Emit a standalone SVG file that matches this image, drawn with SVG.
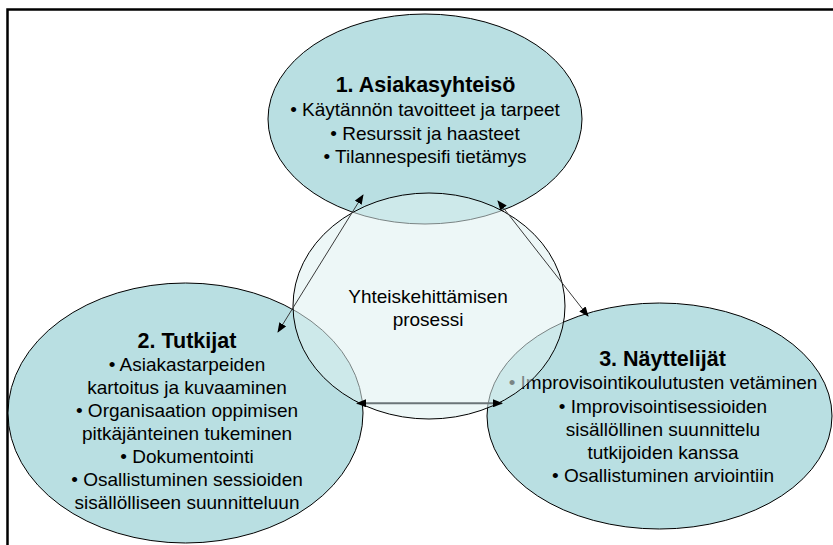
<svg xmlns="http://www.w3.org/2000/svg" width="833" height="545" viewBox="0 0 833 545">
<style>
.bub{fill:#b9dfe2;stroke:#000;stroke-width:1}
.t{font-family:"Liberation Sans",Arial,sans-serif;font-size:19px;fill:#000;text-anchor:middle}
.h{font-size:21.5px;font-weight:bold}
.c1{fill:none;stroke:#3a3a3a;stroke-width:1}
.c2{fill:none;stroke:#6b7578;stroke-width:2}
</style>
<defs>
<marker id="ah" markerWidth="10" markerHeight="8" refX="9" refY="4" orient="auto-start-reverse" markerUnits="userSpaceOnUse">
<path d="M0,0 L10,4 L0,8 Z" fill="#000"/>
</marker>
</defs>
<rect width="833" height="545" fill="#fff"/>
<path d="M7.5,545 V9.5 H833" fill="none" stroke="#000" stroke-width="2.5"/>
<g id="asiakasyhteiso">
<ellipse class="bub" cx="425" cy="119" rx="157" ry="105"/>
<text class="t h" x="425.5" y="92">1. Asiakasyhteisö</text>
<text class="t" x="425" y="116">• Käytännön tavoitteet ja tarpeet</text>
<text class="t" x="425" y="140">• Resurssit ja haasteet</text>
<text class="t" x="425" y="163">• Tilannespesifi tietämys</text>
</g>
<g id="tutkijat">
<ellipse class="bub" cx="185.5" cy="413" rx="177.5" ry="130"/>
<text class="t h" x="187" y="348">2. Tutkijat</text>
<text class="t" x="187" y="371">• Asiakastarpeiden</text>
<text class="t" x="187" y="394">kartoitus ja kuvaaminen</text>
<text class="t" x="187" y="417">• Organisaation oppimisen</text>
<text class="t" x="187" y="440">pitkäjänteinen tukeminen</text>
<text class="t" x="187" y="462.5">• Dokumentointi</text>
<text class="t" x="187" y="485.5">• Osallistuminen sessioiden</text>
<text class="t" x="187" y="508.5">sisällölliseen suunnitteluun</text>
</g>
<g id="nayttelijat">
<ellipse class="bub" cx="659.5" cy="416" rx="172.5" ry="113"/>
<text class="t h" x="662.5" y="366">3. Näyttelijät</text>
<text class="t" x="663" y="389">• Improvisointikoulutusten vetäminen</text>
<text class="t" x="663" y="412.5">• Improvisointisessioiden</text>
<text class="t" x="663" y="435.5">sisällöllinen suunnittelu</text>
<text class="t" x="663" y="458.5">tutkijoiden kanssa</text>
<text class="t" x="663" y="481.5">• Osallistuminen arviointiin</text>
</g>
<g id="prosessi">
<ellipse cx="429" cy="306" rx="136" ry="113" fill="#dff0f1" fill-opacity="0.55" stroke="#000" stroke-width="1"/>
<text class="t" x="428" y="302.5">Yhteiskehittämisen</text>
<text class="t" x="428" y="326">prosessi</text>
</g>
<g id="connectors">
<line class="c1" x1="278" y1="332" x2="363" y2="195" marker-start="url(#ah)" marker-end="url(#ah)"/>
<line class="c1" x1="498" y1="201" x2="588" y2="316" marker-start="url(#ah)" marker-end="url(#ah)"/>
<line class="c2" x1="357" y1="403.3" x2="502" y2="403.3" marker-start="url(#ah)" marker-end="url(#ah)"/>
</g>
</svg>
